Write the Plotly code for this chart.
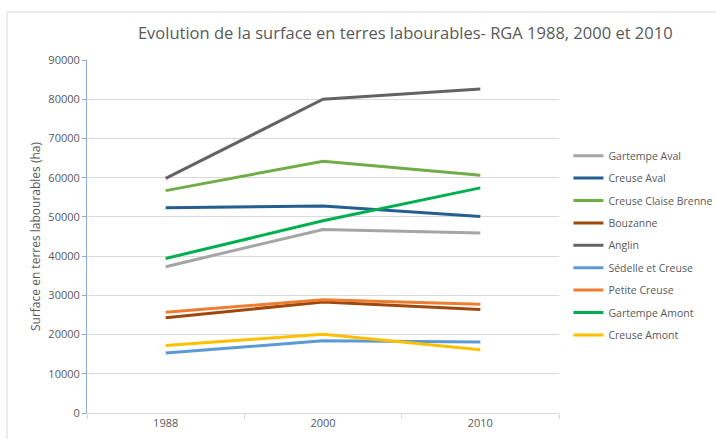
import plotly.graph_objects as go

years = ["1988", "2000", "2010"]
series_names = ["Gartempe Aval", "Creuse Aval", "Creuse Claise Brenne", "Bouzanne", "Anglin",
                "Sédelle et Creuse", "Petite Creuse", "Gartempe Amont", "Creuse Amont"]
gartempe_aval = [37300, 46800, 45900]
creuse_aval = [52300, 52800, 50100]
creuse_claise_brenne = [56700, 64200, 60600]
bouzanne = [24300, 28300, 26400]
anglin = [59800, 80000, 82600]
sedelle_et_creuse = [15300, 18400, 18100]
petite_creuse = [25700, 28900, 27700]
gartempe_amont = [39400, 49000, 57400]
creuse_amont = [17200, 20100, 16100]
values = [gartempe_aval, creuse_aval, creuse_claise_brenne, bouzanne, anglin,
          sedelle_et_creuse, petite_creuse, gartempe_amont, creuse_amont]
colors = ["#A5A5A5", "#255E91", "#70AD47", "#9E480E", "#636363",
          "#5B9BD5", "#ED7D31", "#00B050", "#FFC000"]

fig = go.Figure()
for i, (name, vals, col) in enumerate(zip(series_names, values, colors)):
    fig.add_trace(go.Scatter(x=years, y=vals, name=name, mode="lines",
                             line=dict(color=col, width=3), legendgroup=str(i)))

fig.update_layout(
    width=716, height=439,
    margin=dict(l=87, r=157, t=60, b=26, autoexpand=False),
    paper_bgcolor="white", plot_bgcolor="white",
    font=dict(family="Open Sans, Liberation Sans, sans-serif", color="#595959", size=11),
    title=dict(text="Evolution de la surface en terres labourables- RGA 1988, 2000 et 2010",
               x=0.566, xanchor="center", y=0.925, yanchor="middle",
               font=dict(size=16.5, color="#595959")),
    showlegend=True,
    legend=dict(x=1.02, xanchor="left", y=0.77, yanchor="top",
                font=dict(size=10.5, color="#595959"), tracegroupgap=3.4,
                bgcolor="rgba(0,0,0,0)"),
    xaxis=dict(type="category", range=[-0.5, 2.5], showgrid=False, automargin=False,
               showline=True, linecolor="#D9D9D9", linewidth=1,
               ticks="outside", tickson="boundaries", ticklen=5, tickcolor="#D9D9D9",
               tickfont=dict(size=11, color="#595959"), fixedrange=True),
    yaxis=dict(range=[0, 90000], dtick=10000, tickformat="d", showgrid=True,
               gridcolor="#D9D9D9", gridwidth=1, automargin=False,
               showline=True, linecolor="#8EA9DB", linewidth=1, zeroline=False,
               ticks="outside", ticklen=4, tickcolor="#8EA9DB",
               tickfont=dict(size=11, color="#595959"),
               title=dict(text="Surface en terres labourables (ha)", font=dict(size=12, color="#595959"),
                          standoff=5)),
)
fig.add_shape(type="rect", xref="paper", yref="paper",
              x0=(7 - 87) / 472, x1=(740 - 87) / 472, y0=-(460 - 413) / 353, y1=(413 - 12) / 353,
              line=dict(color="#D9D9D9", width=1), fillcolor="rgba(0,0,0,0)", layer="below")
fig.write_html("out.html", config={"displayModeBar": False},
               post_script="document.body.style.margin='0px';")
